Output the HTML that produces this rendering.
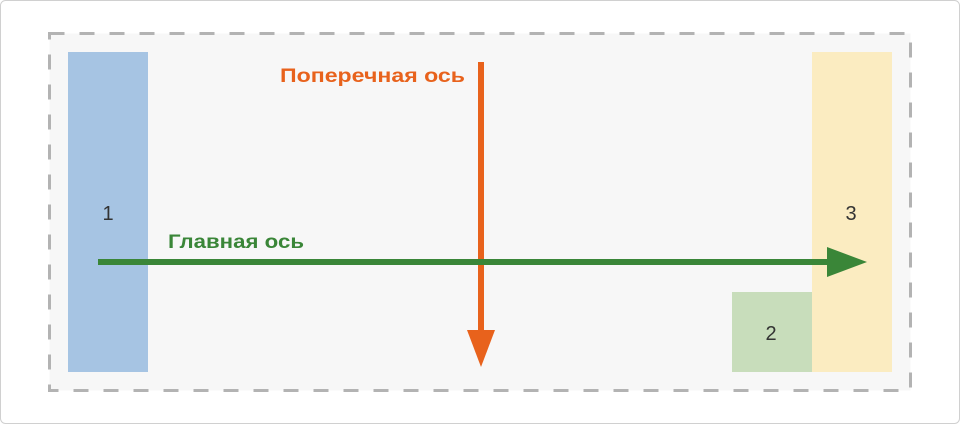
<!DOCTYPE html>
<html><head><meta charset="utf-8"><style>
html,body{margin:0;padding:0;background:#fff;}
svg{display:block;font-family:"Liberation Sans","DejaVu Sans",sans-serif;}
</style></head><body>
<svg width="960" height="424">
<rect x="0.5" y="0.5" width="959" height="423" rx="5" fill="#fff" stroke="#d0d0d0"/>
<rect x="49.5" y="33.5" width="861" height="357" fill="#f7f7f7" stroke="#b3b3b3" stroke-width="3" stroke-dasharray="15 15"/>
<rect x="68" y="52" width="80" height="320" fill="#a6c4e3"/>
<rect x="812" y="52" width="80" height="320" fill="#fbecc1"/>
<rect x="732" y="292" width="80" height="80" fill="#c8ddbb"/>
<text x="108" y="220" font-size="20" fill="#333" text-anchor="middle">1</text>
<text x="851" y="220" font-size="20" fill="#333" text-anchor="middle">3</text>
<text x="771" y="340" font-size="20" fill="#333" text-anchor="middle">2</text>
<g>
<rect x="478" y="62" width="6" height="272" fill="#e8621c"/>
<polygon points="467,330 495,330 481,367" fill="#e8621c"/>
</g>
<text x="280" y="82" font-size="19" font-weight="bold" fill="#e8621c" textLength="185" lengthAdjust="spacingAndGlyphs">Поперечная ось</text>
<g>
<rect x="98" y="259" width="732" height="6" fill="#3a8638"/>
<polygon points="827,247 827,277 867,262" fill="#3a8638"/>
</g>
<text x="168" y="248" font-size="19" font-weight="bold" fill="#3a8638" textLength="136" lengthAdjust="spacingAndGlyphs">Главная ось</text>
</svg>
</body></html>
